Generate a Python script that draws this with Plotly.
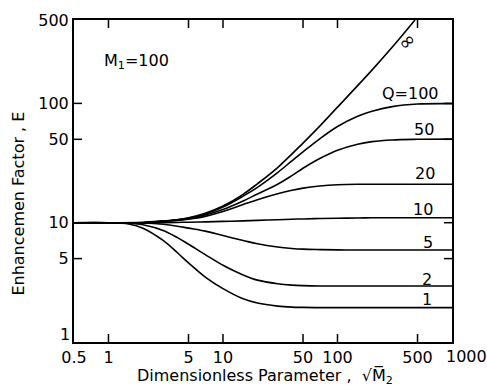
import math
import plotly.graph_objects as go

# Dimensionless parameter sqrt(M2) sampled along each curve
x_common = [0.5, 1, 1.5, 2, 3, 4, 5, 7, 10, 15, 20, 30, 40, 50, 70, 100, 150, 200, 300, 500, 1000]
x_inf = [0.5, 1, 2, 3, 4, 5, 7, 10, 15, 20, 30, 50, 70, 100, 200, 300, 475]

# Enhancement factor E for each Q (M1 = 100)
e_inf = [10, 10, 10.1, 10.3, 10.6, 11, 12, 13.8, 17.3, 21.2, 29.0, 46.5, 64.5, 93, 190, 295, 500]
e_q100 = [10, 10, 10, 10, 10.3, 10.6, 10.9, 11.8, 13.5, 16.7, 19.8, 26.3, 33.0, 39.3, 50.5, 64, 78, 86, 94, 98.8, 99.5]
e_q50 = [10, 10, 10, 10, 10.3, 10.5, 10.8, 11.6, 12.9, 15.2, 17.4, 21.0, 24.8, 28.6, 34.5, 40.5, 45.5, 47.8, 49.4, 50, 50.2]
e_q20 = [10, 10, 10, 10, 10.25, 10.45, 10.7, 11.3, 12.4, 14.2, 15.6, 17.5, 18.7, 19.5, 20.3, 20.8, 21, 21, 21, 21, 21]
e_q10 = [10, 10, 10, 10, 10, 10.05, 10.1, 10.15, 10.25, 10.35, 10.45, 10.6, 10.7, 10.75, 10.85, 10.9, 10.95, 11, 11, 11, 11]
e_q5 = [10, 10, 10, 9.95, 9.7, 9.35, 9.0, 8.5, 7.8, 7.1, 6.65, 6.25, 6.08, 6.0, 5.95, 5.92, 5.9, 5.9, 5.9, 5.9, 5.9]
e_q2 = [10, 10, 9.9, 9.6, 8.6, 7.5, 6.6, 5.4, 4.4, 3.65, 3.3, 3.08, 3.0, 2.97, 2.95, 2.95, 2.95, 2.95, 2.95, 2.95, 2.95]
e_q1 = [10, 10, 9.75, 9.0, 7.1, 5.6, 4.6, 3.5, 2.8, 2.3, 2.12, 2.0, 1.96, 1.95, 1.94, 1.94, 1.94, 1.94, 1.94, 1.94, 1.94]

series = [
    (x_inf, e_inf),
    (x_common, e_q100),
    (x_common, e_q50),
    (x_common, e_q20),
    (x_common, e_q10),
    (x_common, e_q5),
    (x_common, e_q2),
    (x_common, e_q1),
]

# Curve labels: text, x, y, angle, size
curve_labels = [
    ("\u221e", 402, 335, -40, 20),
    ("Q=100", 430, 122, 0, 16),
    ("50", 570, 60, 0, 16),
    ("20", 580, 25.9, 0, 16),
    ("10", 555, 13.0, 0, 16),
    ("5", 615, 6.76, 0, 16),
    ("2", 605, 3.37, 0, 16),
    ("1", 605, 2.29, 0, 16),
]

x_ticks = [0.5, 1, 5, 10, 50, 100, 500, 1000]
x_ticktext = ["0.5", "1", "5", "10", "50", "100", "500", ""]
y_ticks = [1, 5, 10, 50, 100, 500]
y_ticktext = ["", "5", "10", "50", "100", "500"]
X_RANGE = [-0.30103, 3]
Y_RANGE = [0, 2.69897]

W, H = 487, 387
MARGIN = dict(l=74, r=35, t=20, b=45)
TICK_LEN_PX = 8

FONT = "DejaVu Sans"
TXT = dict(family=FONT, size=16, color="black")

fig = go.Figure()
for xs, ys in series:
    fig.add_trace(go.Scatter(
        x=xs, y=ys, mode="lines",
        line=dict(color="black", width=1.6, shape="spline", smoothing=1.0),
        showlegend=False, hoverinfo="skip",
    ))

# Inward tick marks on all four sides, sized in pixels and converted to log-axis factors
plot_w = W - MARGIN["l"] - MARGIN["r"]
plot_h = H - MARGIN["t"] - MARGIN["b"]
kx = 10 ** (TICK_LEN_PX / plot_w * (X_RANGE[1] - X_RANGE[0]))
ky = 10 ** (TICK_LEN_PX / plot_h * (Y_RANGE[1] - Y_RANGE[0]))
x_lo, x_hi = 10 ** X_RANGE[0], 10 ** X_RANGE[1]
y_lo, y_hi = 10 ** Y_RANGE[0], 10 ** Y_RANGE[1]

tx, ty = [], []
for v in x_ticks[1:-1]:
    tx += [v, v, None, v, v, None]
    ty += [y_lo, y_lo * ky, None, y_hi / ky, y_hi, None]
for v in y_ticks[1:-1]:
    tx += [x_lo, x_lo * kx, None, x_hi / kx, x_hi, None]
    ty += [v, v, None, v, v, None]
fig.add_trace(go.Scatter(
    x=tx, y=ty, mode="lines", line=dict(color="black", width=1.5),
    showlegend=False, hoverinfo="skip", cliponaxis=False,
))

axis_common = dict(
    type="log", ticks="", showline=True, linecolor="black", linewidth=2,
    mirror=True, showgrid=False, zeroline=False, tickfont=TXT,
)
fig.update_layout(
    width=W, height=H, margin=MARGIN,
    paper_bgcolor="white", plot_bgcolor="white",
    font=dict(family=FONT, color="black"),
    xaxis=dict(range=X_RANGE, tickvals=x_ticks, ticktext=x_ticktext, **axis_common),
    yaxis=dict(range=Y_RANGE, tickvals=y_ticks, ticktext=y_ticktext, **axis_common),
)

annotations = []
for text, lx, ly, ang, sz in curve_labels:
    annotations.append(dict(
        x=math.log10(lx), y=math.log10(ly), xref="x", yref="y", text=text,
        showarrow=False, textangle=ang, font=dict(family=FONT, size=sz, color="black"),
        xanchor="center", yanchor="middle",
    ))

# end labels of the axes placed beside the corners
annotations.append(dict(
    x=1, y=0, xref="paper", yref="paper", text="1000", showarrow=False,
    xanchor="center", yanchor="top", xshift=14, yshift=-3, font=TXT,
))
annotations.append(dict(
    x=0, y=0, xref="paper", yref="paper", text="1", showarrow=False,
    xanchor="right", yanchor="bottom", xshift=-2, yshift=-4, font=TXT,
))

annotations.append(dict(
    x=math.log10(0.88), y=math.log10(225), xref="x", yref="y",
    text="M<sub>1</sub>=100", showarrow=False,
    xanchor="left", yanchor="middle", font=TXT,
))

annotations.append(dict(
    x=-0.148, y=0.43, xref="paper", yref="paper",
    text="Enhancemen Factor , E", showarrow=False, textangle=-90,
    xanchor="center", yanchor="middle", font=TXT,
))

annotations.append(dict(
    x=0.505, y=-0.106, xref="paper", yref="paper",
    text="Dimensionless Parameter ,  \u221aM\u0305<sub>2</sub>", showarrow=False,
    xanchor="center", yanchor="middle", font=TXT,
))

fig.update_layout(annotations=annotations)

fig.write_html("out.html")
